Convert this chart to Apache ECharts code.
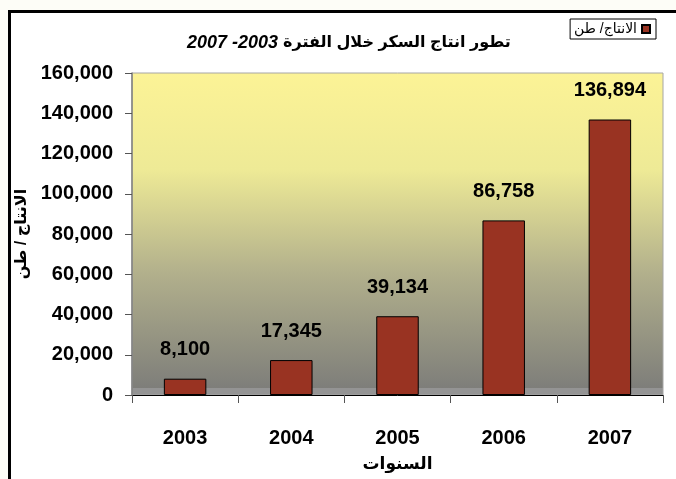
<!DOCTYPE html>
<html>
<head>
<meta charset="utf-8">
<title>تطور انتاج السكر</title>
<script src="https://cdn.jsdelivr.net/npm/echarts@6/dist/echarts.min.js"></script>
<style>
  html, body { margin: 0; padding: 0; background: #fdfdf7; }
  #chart { width: 676px; height: 479px; }
</style>
</head>
<body>
<div id="chart"></div>
<script>
// data
const years = ['2003', '2004', '2005', '2006', '2007'];
const production = [8100, 17345, 39134, 86758, 136894];
const seriesName = 'الانتاج/ طن';
const yTicks = { min: 0, max: 160000, step: 20000 };

const numFont = "'Liberation Sans', Arial, sans-serif";
const arFont = "'Liberation Sans', 'DejaVu Sans', Arial, sans-serif";

const fmt = (v) => Number(v).toLocaleString('en-US');

const chart = echarts.init(document.getElementById('chart'));

const option = {
  backgroundColor: '#fdfdf7',
  animation: false,
  graphic: [
    {
      type: 'rect',
      z: -10,
      shape: { x: 9.5, y: 11.5, width: 720, height: 520 },
      style: { fill: '#ffffff', stroke: '#000000', lineWidth: 3 }
    }
  ],
  title: {
    left: 182,
    top: 29,
    text: '{n|2007 -2003} {a|تطور انتاج السكر خلال الفترة}',
    textStyle: {
      rich: {
        n: { fontFamily: arFont, fontSize: 18, fontWeight: 'bold', fontStyle: 'italic', color: '#000' },
        a: { fontFamily: arFont, fontSize: 16, fontWeight: 'bold', color: '#000' }
      }
    }
  },
  legend: {
    right: 20,
    top: 19,
    align: 'right',
    padding: [3, 5, 3, 4],
    borderColor: '#000',
    borderWidth: 1,
    backgroundColor: '#fff',
    icon: 'rect',
    itemWidth: 8,
    itemHeight: 8,
    itemGap: 4,
    textStyle: { fontFamily: arFont, fontSize: 14, color: '#000' },
    data: [seriesName]
  },
  grid: {
    left: 132,
    right: 13,
    top: 73,
    bottom: 84,
    show: true,
    borderColor: '#a6a6a6',
    borderWidth: 1,
    backgroundColor: new echarts.graphic.LinearGradient(0, 0, 0, 1, [
      { offset: 0, color: '#fcf396' },
      { offset: 0.3, color: '#eeea96' },
      { offset: 0.62, color: '#b2b08c' },
      { offset: 0.978, color: '#7e7e7a' },
      { offset: 0.978, color: '#949494' },
      { offset: 1, color: '#949494' }
    ])
  },
  xAxis: {
    type: 'category',
    data: years,
    name: 'السنوات',
    nameLocation: 'middle',
    nameGap: 61,
    nameTextStyle: { fontFamily: arFont, fontSize: 17, fontWeight: 'bold', color: '#000' },
    axisLine: { lineStyle: { color: '#000', width: 1 } },
    axisTick: { show: true, inside: false, length: 8, lineStyle: { color: '#555' } },
    axisLabel: {
      margin: 33,
      fontFamily: numFont,
      fontSize: 20,
      fontWeight: 'bold',
      color: '#000'
    },
    splitLine: { show: false }
  },
  yAxis: {
    type: 'value',
    min: yTicks.min,
    max: yTicks.max,
    interval: yTicks.step,
    name: 'الانتاج / طن',
    nameLocation: 'middle',
    nameGap: 90,
    nameTextStyle: { fontFamily: arFont, fontSize: 16, fontWeight: 'bold', color: '#000' },
    axisLine: { show: true, lineStyle: { color: '#808080', width: 1.5 } },
    axisTick: { show: true, length: 7, lineStyle: { color: '#555' } },
    axisLabel: {
      margin: 19,
      formatter: fmt,
      fontFamily: numFont,
      fontSize: 20,
      fontWeight: 'bold',
      color: '#000'
    },
    splitLine: { show: false }
  },
  series: [
    {
      name: seriesName,
      type: 'bar',
      data: production,
      barWidth: '40%',
      itemStyle: { color: '#993322', borderColor: '#000', borderWidth: 1 },
      label: {
        show: true,
        position: 'top',
        distance: 19,
        formatter: (p) => fmt(p.value),
        fontFamily: numFont,
        fontSize: 20,
        fontWeight: 'bold',
        color: '#000'
      }
    }
  ]
};

chart.setOption(option);
</script>
</body>
</html>
